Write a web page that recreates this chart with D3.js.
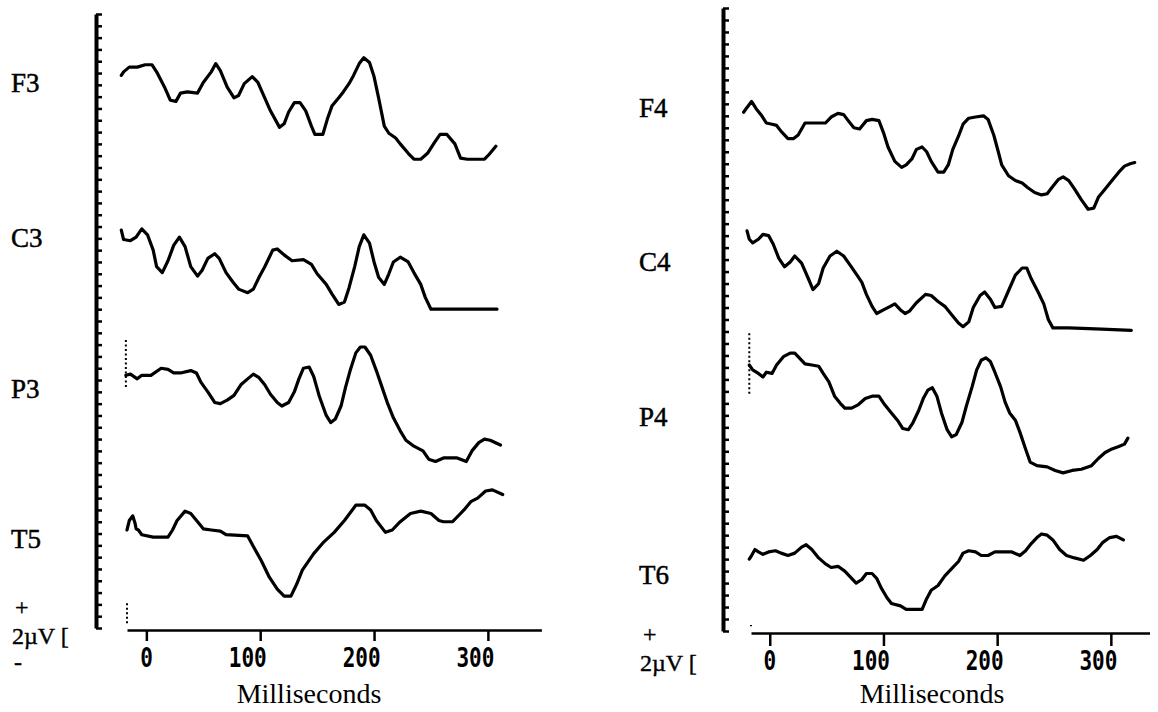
<!doctype html>
<html>
<head>
<meta charset="utf-8">
<script src="https://d3js.org/d3.v7.min.js"></script>
<style>
  body { margin: 0; background: #fff; }
  .trace { fill: none; stroke: #000; stroke-width: 3.2; stroke-linejoin: round; stroke-linecap: round; }
  .chan { font-family: "Liberation Serif", "Times New Roman", serif; font-size: 27px; fill: #000; stroke: #000; stroke-width: 0.5; }
  .calib { font-family: "Liberation Serif", "Times New Roman", serif; font-size: 24px; fill: #000; stroke: #000; stroke-width: 0.4; }
  .xlab { font-family: "DejaVu Sans Mono", monospace; font-weight: bold; font-size: 21px; fill: #000; }
  .xtitle { font-family: "Liberation Serif", "Times New Roman", serif; font-size: 28px; fill: #000; }
</style>
</head>
<body>
<script>
// time in ms, amplitude in microvolts (relative to each channel's baseline)
var f3Time = [-22,-20,-15,-8,-1,5,9,16,21,26,30,36,45,50,57,61,65,71,77,81,86,93,98,103,109,117,121,125,130,135,140,145,148,155,159,163,169,173,178,182,187,191,196,200,204,209,213,219,223,230,235,241,247,253,258,264,271,276,282,297,301,307];
var f3Amp  = [0.6,0.9,1.3,1.3,1.5,1.5,0.9,-0.4,-1.5,-1.6,-0.9,-0.8,-0.9,0,0.9,1.6,1,-0.4,-1.3,-1.1,-0.1,0.5,0,-1.1,-2.4,-3.8,-3.5,-2.5,-1.7,-1.7,-2.4,-3.7,-4.4,-4.4,-3.1,-2,-1.3,-0.8,-0.1,0.6,1.6,2.1,1.7,0.5,-1.3,-3.7,-4.3,-4.7,-5.2,-6,-6.5,-6.5,-6,-5.1,-4.4,-4.4,-5.2,-6.4,-6.5,-6.5,-6.1,-5.4];

var c3Time = [-22,-20,-14,-9,-4,1,6,9,14,19,24,29,34,39,45,49,54,60,64,70,76,81,89,94,99,104,111,115,121,128,138,145,150,158,163,169,174,178,183,187,191,196,200,204,209,213,217,223,230,235,241,245,250,261,308];
var c3Amp  = [0.6,-0.2,-0.3,0,0.7,0.2,-1.1,-2.5,-3,-2,-0.7,0,-0.8,-2.5,-3.3,-2.8,-1.8,-1.4,-1.8,-3,-3.8,-4.4,-4.7,-4.4,-3.4,-2.5,-1.1,-1,-1.5,-2,-1.9,-2.3,-3.1,-4,-4.8,-5.7,-5.5,-4.3,-2.5,-0.8,0.2,-0.5,-2.1,-3.4,-4,-3.1,-2.1,-1.7,-2.1,-3,-4,-5.1,-6.1,-6.1,-6.1];

var p3Time = [-18,-14,-8,-4,4,13,19,24,30,39,44,48,54,60,65,71,77,83,89,94,99,104,109,115,119,125,130,134,138,143,147,152,158,162,166,171,175,179,184,188,192,197,202,207,212,217,223,228,235,243,248,254,261,273,281,286,292,297,302,311];
var p3Amp  = [1.1,1.2,0.8,1.1,1.1,1.7,1.6,1.3,1.3,1.5,1.3,0.5,-0.3,-1.2,-1.3,-1,-0.6,0.3,0.8,1.2,0.9,0.3,-0.5,-1.2,-1.5,-1.2,-0.3,0.8,1.7,1.8,1,-0.7,-2.3,-2.9,-2.6,-1.5,0.1,1.5,3,3.5,3.5,2.8,1.5,0.1,-1.3,-2.5,-3.6,-4.4,-4.9,-5.3,-6,-6.2,-5.9,-5.9,-6.2,-5.3,-4.6,-4.3,-4.4,-4.8];

var t5Time = [-17,-15,-12,-10,-9,-7,-4,6,19,23,27,34,39,45,50,57,65,70,89,94,101,108,115,121,127,132,137,142,147,156,165,174,184,192,197,202,210,216,223,232,241,250,257,261,269,273,279,285,291,298,304,313];
var t5Amp  = [0.7,1.5,1.9,1.3,0.8,0.7,0.3,0.1,0.1,0.7,1.5,2.3,2.1,1.4,0.8,0.7,0.6,0.3,0.2,-0.7,-1.9,-3.3,-4.3,-4.9,-4.9,-3.9,-2.7,-2,-1.3,-0.3,0.5,1.5,2.8,2.8,2.4,1.5,0.5,0.7,1.4,2.1,2.3,2.1,1.5,1.4,1.4,1.8,2.4,3.1,3.4,4,4.1,3.7];

var f4Time = [-23,-20,-16,-12,-7,-3,2,6,10,16,21,25,31,37,49,54,60,65,69,74,79,85,90,96,100,104,110,116,120,125,129,134,138,142,148,153,157,161,166,170,175,181,188,192,197,201,204,210,216,222,227,233,239,244,248,254,258,263,268,274,280,285,289,295,301,307,312,317,321];
var f4Amp  = [-0.4,0,0.5,-0.1,-0.7,-1.3,-1.4,-1.5,-2,-2.6,-2.6,-2.3,-1.3,-1.3,-1.3,-0.8,-0.5,-0.6,-1.1,-1.7,-1.8,-1.1,-1,-1.1,-2.1,-3.3,-4.5,-5,-4.8,-4.3,-3.5,-3.3,-3.7,-4.5,-5.4,-5.4,-4.8,-3.5,-2.4,-1.4,-0.9,-0.8,-0.7,-1,-2.3,-3.7,-4.8,-5.7,-6.1,-6.3,-6.7,-7.1,-7.3,-7.2,-6.7,-6,-5.8,-6.1,-6.8,-7.7,-8.5,-8.4,-7.5,-6.8,-6.1,-5.4,-4.9,-4.7,-4.6];

var c4Time = [-20,-18,-15,-10,-6,-1,3,8,13,18,22,28,34,38,43,47,53,59,65,71,76,81,85,90,94,100,106,110,115,119,123,129,137,142,148,154,160,166,170,175,179,185,189,194,198,204,210,216,222,226,230,236,241,245,249,263,292,318];
var c4Amp  = [2.6,1.9,1.6,1.9,2.3,2.2,1.5,0.3,-0.4,0,0.5,-0.1,-1.4,-2.3,-1.8,-0.5,0.5,0.9,0.5,-0.3,-1,-1.7,-2.7,-3.7,-4.3,-4,-3.7,-3.5,-4,-4.3,-4.1,-3.4,-2.7,-2.8,-3.3,-3.7,-4.4,-5.1,-5.4,-5,-3.8,-2.8,-2.5,-3.1,-3.8,-3.7,-2.4,-1.1,-0.5,-0.5,-1.4,-2.5,-3.5,-4.8,-5.5,-5.5,-5.6,-5.7];

var p4Time = [-18,-15,-10,-6,-3,2,6,12,18,22,27,31,37,43,47,52,57,62,66,72,78,84,90,96,101,107,113,117,122,126,131,135,139,143,147,151,156,160,164,169,173,178,182,186,190,194,198,203,207,211,216,220,225,229,235,244,251,258,266,274,283,289,295,301,307,312,315];
var p4Amp  = [4.3,3.9,3.6,3.3,3.7,3.6,4.3,5,5.3,5.3,4.8,4.4,4.3,4.2,3.6,2.9,1.7,1.1,0.7,0.7,1,1.5,1.7,1.7,1,0.3,-0.4,-1,-1.1,-0.5,0.5,1.5,2.2,2.4,1.7,0.3,-1.1,-1.7,-1.5,-0.5,0.9,2.5,3.9,4.7,4.9,4.6,3.7,2.5,1.2,0.3,-0.3,-1.3,-2.7,-3.8,-4.1,-4.2,-4.5,-4.7,-4.5,-4.4,-4.1,-3.5,-3,-2.7,-2.5,-2.3,-1.8];

var t6Time = [-18,-16,-13,-10,-6,-1,5,10,16,22,28,32,37,43,49,54,60,66,72,76,81,85,90,94,98,103,107,115,120,126,134,138,142,148,154,160,166,170,175,181,186,192,198,204,213,220,225,230,235,239,244,249,255,261,268,276,282,288,293,299,305,311];
var t6Amp  = [1.3,1.6,2.1,1.9,1.7,1.9,2,1.8,1.6,1.8,2.3,2.5,2.1,1.4,0.9,0.6,0.7,0.3,-0.3,-0.7,-0.4,0.1,0.1,-0.3,-1.1,-1.9,-2.4,-2.6,-2.9,-2.9,-2.9,-2,-1.3,-0.9,-0.1,0.5,1.1,1.8,2,1.9,1.6,1.6,1.9,1.9,1.9,1.6,2,2.6,3.1,3.4,3.3,2.9,2.1,1.6,1.4,1.2,1.6,2.1,2.7,3.1,3.2,2.9];

var leftChannels  = ["F3", "C3", "P3", "T5"];
var rightChannels = ["F4", "C4", "P4", "T6"];
// baseline of each channel on the stacked vertical scale
var leftOffsets  = [46.2, 33.1, 20.3, 7.6];
var rightOffsets = [43.7, 30.8, 17.9, 4.7];
var xTicks = [0, 100, 200, 300];

// small dotted stimulus markers: [channel index, ms, from µV, to µV]
var leftMarks  = [[2, -18, 0.1, 4.3], [3, -17, -5.5, -7.3]];
var rightMarks = [[2, -18, 1.9, 7.0], [3, -16.5, -4.2, -4.3]];

var svg = d3.select("body").append("svg")
    .attr("width", 1158)
    .attr("height", 712)
    .style("background", "#fff");

function drawPanel(p) {
  var x = d3.scaleLinear().domain(p.xDomain).range(p.xRange);
  var y = d3.scaleLinear().domain([0, 52]).range(p.yRange);
  var g = svg.append("g");

  // vertical ruler axis with ticks pointing right
  var ya = g.append("g")
      .attr("transform", "translate(" + p.axisX + ",0)")
      .call(d3.axisRight(y).tickValues(d3.range(0, 53)).tickSize(6).tickSizeOuter(0).tickFormat(""));
  ya.select(".domain").attr("stroke", "#000").attr("stroke-width", 4);
  ya.selectAll(".tick line").attr("stroke", "#000").attr("stroke-width", 2.5);

  // time axis
  var xa = g.append("g")
      .attr("transform", "translate(0," + p.baseY + ")")
      .call(d3.axisBottom(x).tickValues(xTicks).tickSize(p.tickLen).tickSizeOuter(0).tickFormat(""));
  xa.select(".domain").attr("stroke", "#000").attr("stroke-width", 2.5);
  xa.selectAll(".tick line").attr("stroke", "#000").attr("stroke-width", 2.5);

  xTicks.forEach(function(t) {
    g.append("text")
      .attr("class", "xlab")
      .attr("text-anchor", "end")
      .attr("transform", "translate(" + (x(t) + 6.5) + "," + p.labY + ") scale(1,1.3)")
      .text(t);
  });

  g.append("text")
    .attr("class", "xtitle")
    .attr("text-anchor", "middle")
    .attr("x", p.titleX)
    .attr("y", 703)
    .text("Milliseconds");

  var line = d3.line()
      .x(function(d) { return x(d[0]); })
      .y(function(d) { return y(d[1]); });

  p.channels.forEach(function(name, i) {
    var pts = d3.zip(p.times[i], p.amps[i]).map(function(d) { return [d[0], d[1] + p.offsets[i]]; });
    g.append("path").attr("class", "trace").attr("d", line(pts));
    g.append("text")
      .attr("class", "chan")
      .attr("x", p.labelX)
      .attr("y", y(p.offsets[i]))
      .attr("dy", "0.35em")
      .text(name);
  });

  p.marks.forEach(function(m) {
    g.append("line")
      .attr("x1", x(m[1])).attr("x2", x(m[1]))
      .attr("y1", y(p.offsets[m[0]] + m[2])).attr("y2", y(p.offsets[m[0]] + m[3]))
      .attr("stroke", "#000")
      .attr("stroke-width", 2)
      .attr("stroke-dasharray", "2,2.5");
  });

  // calibration note
  g.append("text").attr("class", "calib").attr("x", p.plusX).attr("y", p.plusY).attr("dy", "0.35em").text("+");
  g.append("text").attr("class", "calib").attr("x", p.labelX + 1).attr("y", p.uvY).attr("dy", "0.35em").text("2\u00b5V [");
  if (p.minusY) {
    g.append("text").attr("class", "calib").attr("x", p.labelX + 3).attr("y", p.minusY).attr("dy", "0.35em").text("-");
  }
}

drawPanel({
  xDomain: [-17, 347], xRange: [127, 541.4],
  yRange: [628, 14], axisX: 96,
  baseY: 630, tickLen: 11, labY: 667, titleX: 309,
  labelX: 11,
  channels: leftChannels, offsets: leftOffsets,
  times: [f3Time, c3Time, p3Time, t5Time],
  amps: [f3Amp, c3Amp, p3Amp, t5Amp],
  marks: leftMarks,
  plusX: 15, plusY: 607, uvY: 636, minusY: 662
});

drawPanel({
  xDomain: [-16.5, 334], xRange: [751, 1149.5],
  yRange: [631, 8], axisX: 723,
  baseY: 633, tickLen: 13, labY: 670, titleX: 932,
  labelX: 639,
  channels: rightChannels, offsets: rightOffsets,
  times: [f4Time, c4Time, p4Time, t6Time],
  amps: [f4Amp, c4Amp, p4Amp, t6Amp],
  marks: rightMarks,
  plusX: 643, plusY: 634, uvY: 663, minusY: null
});
</script>
</body>
</html>
